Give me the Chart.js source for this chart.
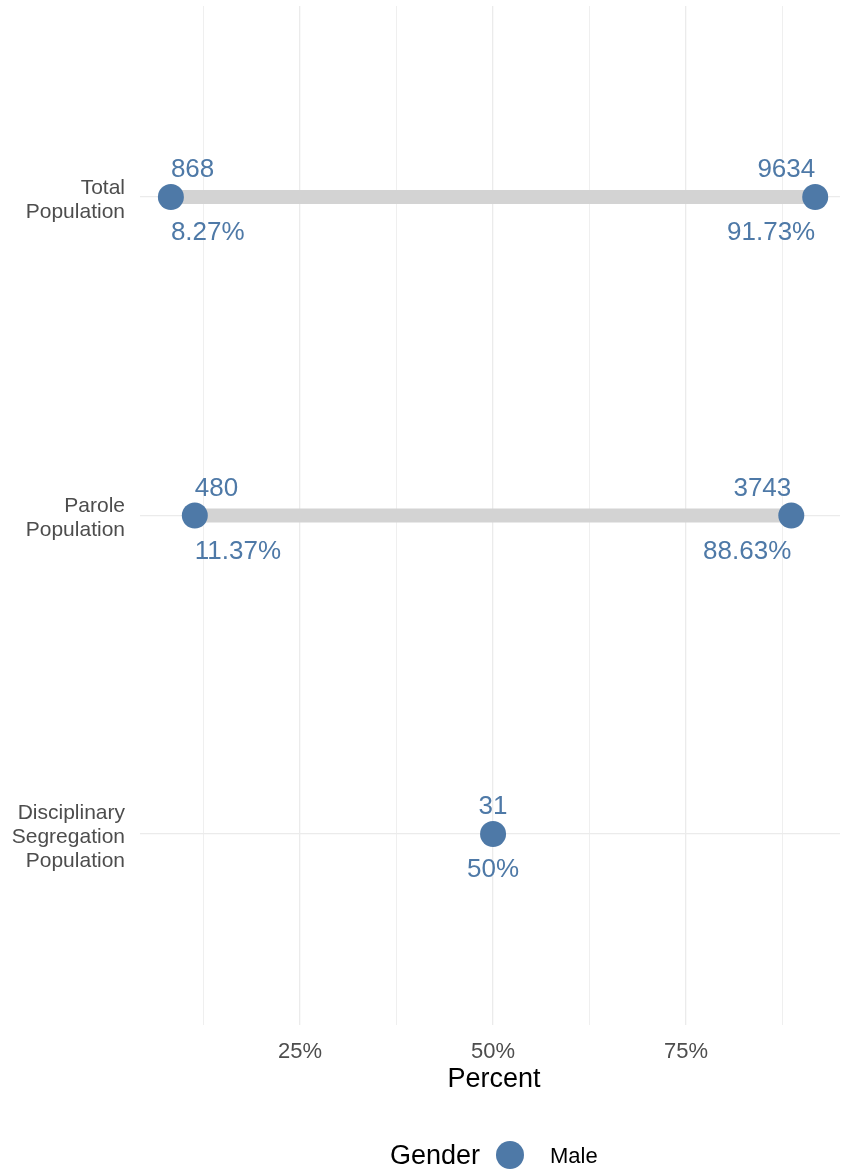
<!DOCTYPE html>
<html>
<head>
<meta charset="utf-8">
<script src="https://cdn.jsdelivr.net/npm/chart.js@4"></script>
<style>
  html, body { margin: 0; padding: 0; background: #fff; }
  canvas { display: block; }
</style>
</head>
<body>
<canvas id="chart" width="841" height="1170"></canvas>
<script>
const categories = [
    ['Total', 'Population'],
    ['Parole', 'Population'],
    ['Disciplinary', 'Segregation', 'Population']
];
const lowPct = [8.27, 11.37, 50];
const lowCount = [868, 480, 31];
const highPct = [91.73, 88.63, null];
const highCount = [9634, 3743, null];
const xTicks = [12.5, 25, 37.5, 50, 62.5, 75, 87.5];
const xTickLabels = ['', '25%', '', '50%', '', '75%', ''];

const FONT = "'Liberation Sans', Arial, sans-serif";
const DOT = '#4e79a7';

// points for the dots
const dotPoints = [];
categories.forEach((c, i) => {
    dotPoints.push({ x: lowPct[i], y: i + 1 });
    if (highPct[i] !== null) dotPoints.push({ x: highPct[i], y: i + 1 });
});

// grey segments, one per category that has two ends
const segmentSets = [];
categories.forEach((c, i) => {
    if (highPct[i] === null) return;
    segmentSets.push({
        data: [{ x: lowPct[i], y: i + 1 }, { x: highPct[i], y: i + 1 }],
        showLine: true,
        borderColor: '#d3d3d3',
        borderWidth: 14,
        borderCapStyle: 'butt',
        pointRadius: 0,
        pointHoverRadius: 0
    });
});

// count above the dot, percent below, plus axis title and legend
const labelPlugin = {
    id: 'labels',
    afterDraw(chart) {
        const ctx = chart.ctx;
        const xs = chart.scales.x;
        const ys = chart.scales.y;
        ctx.save();
        ctx.fillStyle = DOT;
        ctx.font = '26px ' + FONT;
        ctx.textBaseline = 'middle';

        const put = (pct, count, yv, align) => {
            const px = xs.getPixelForValue(pct);
            const py = ys.getPixelForValue(yv);
            ctx.textAlign = align;
            ctx.fillText(String(count), px, py - 27);
            ctx.fillText(String(pct) + '%', px, py + 36);
        };
        categories.forEach((c, i) => {
            if (highPct[i] === null) {
                put(lowPct[i], lowCount[i], i + 1, 'center');
            } else {
                put(lowPct[i], lowCount[i], i + 1, 'left');
                put(highPct[i], highCount[i], i + 1, 'right');
            }
        });

        // axis title
        const area = chart.chartArea;
        ctx.fillStyle = '#000';
        ctx.font = '27px ' + FONT;
        ctx.textAlign = 'center';
        ctx.fillText('Percent', (area.left + area.right) / 2 + 4, 1080);

        // legend
        ctx.textAlign = 'left';
        ctx.fillText('Gender', 390, 1157);
        ctx.fillStyle = DOT;
        ctx.beginPath();
        ctx.arc(510, 1155, 14, 0, Math.PI * 2);
        ctx.fill();
        ctx.fillStyle = '#000';
        ctx.font = '22px ' + FONT;
        ctx.fillText('Male', 550, 1157);
        ctx.restore();
    }
};

new Chart(document.getElementById('chart'), {
    type: 'scatter',
    data: {
        datasets: [{
            label: 'Male',
            data: dotPoints,
            backgroundColor: DOT,
            borderWidth: 0,
            pointRadius: 13,
            pointHoverRadius: 13
        }].concat(segmentSets)
    },
    options: {
        responsive: false,
        animation: false,
        devicePixelRatio: 1,
        layout: {
            autoPadding: false,
            padding: { top: 6, right: 1, left: 0, bottom: 0 }
        },
        plugins: {
            legend: { display: false },
            tooltip: { enabled: false }
        },
        scales: {
            x: {
                type: 'linear',
                min: 4.27,
                max: 94.94,
                afterBuildTicks: (s) => {
                    s.ticks = xTicks.map(v => ({ value: v }));
                },
                afterFit: (s) => {
                    s.height = 145;
                    s.paddingLeft = 0;
                    s.paddingRight = 0;
                },
                ticks: {
                    autoSkip: false,
                    maxRotation: 0,
                    padding: 14,
                    color: '#4d4d4d',
                    font: { family: FONT, size: 22 },
                    callback: (v, i) => xTickLabels[i]
                },
                grid: {
                    color: '#ebebeb',
                    lineWidth: (c) => (c.tick && c.tick.value % 25 === 0) ? 1.3 : 0.8,
                    drawTicks: false
                },
                border: { display: false }
            },
            y: {
                type: 'linear',
                min: 0.4,
                max: 3.6,
                reverse: true,
                afterBuildTicks: (s) => {
                    s.ticks = [1, 2, 3].map(v => ({ value: v }));
                },
                afterFit: (s) => {
                    s.width = 140;
                    s.paddingTop = 0;
                    s.paddingBottom = 0;
                },
                ticks: {
                    autoSkip: false,
                    padding: 15,
                    labelOffset: 3,
                    color: '#4d4d4d',
                    font: { family: FONT, size: 21, lineHeight: 1.15 },
                    callback: (v) => categories[v - 1]
                },
                grid: {
                    color: '#ebebeb',
                    lineWidth: 1.3,
                    drawTicks: false
                },
                border: { display: false }
            }
        }
    },
    plugins: [labelPlugin]
});
</script>
</body>
</html>
